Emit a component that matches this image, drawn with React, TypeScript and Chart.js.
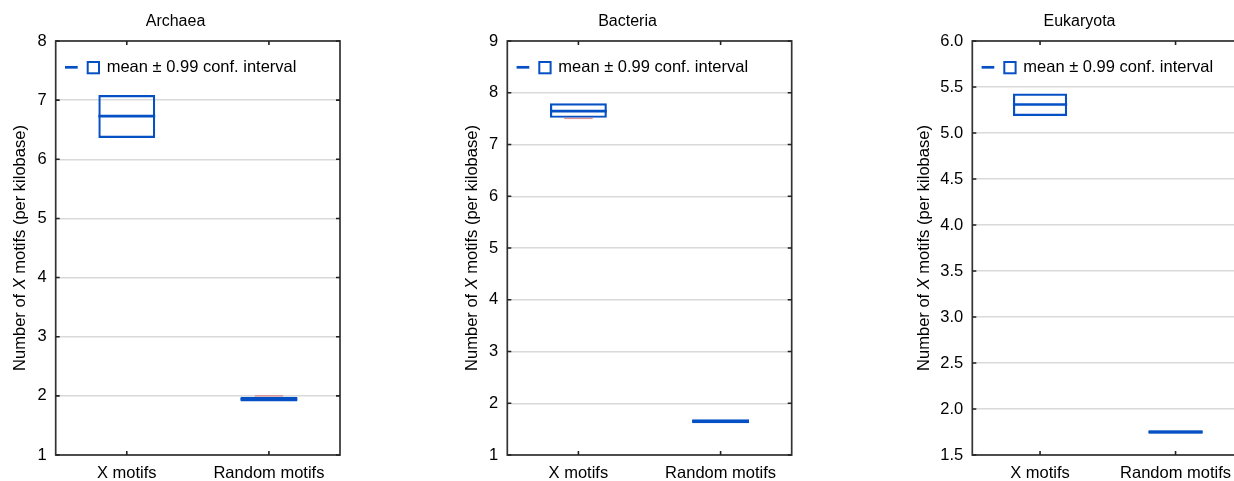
import React, { useEffect, useRef } from "react";
import { Chart, registerables } from "chart.js";

Chart.register(...registerables);

// ---- data ----
const categories = ["X motifs", "Random motifs"];

const archaeaLow = [6.36, 1.905];
const archaeaHigh = [7.085, 1.985];
const archaeaMean = [6.73, 1.944];
const archaeaPink: (number | null)[] = [null, 2.0];

const bacteriaLow = [7.515, 1.614];
const bacteriaHigh = [7.795, 1.69];
const bacteriaMean = [7.645, 1.652];
const bacteriaPink: (number | null)[] = [7.504, null];

const eukaryotaLow = [5.185, 1.732];
const eukaryotaHigh = [5.428, 1.768];
const eukaryotaMean = [5.309, 1.75];
const eukaryotaPink: (number | null)[] = [null, null];

const panelTitles = ["Archaea", "Bacteria", "Eukaryota"];
const yRanges = [
  { min: 1, max: 8, step: 1, decimals: 0 },
  { min: 1, max: 9, step: 1, decimals: 0 },
  { min: 1.5, max: 6.0, step: 0.5, decimals: 1 },
];
const legendText = "mean \u00b1 0.99 conf. interval";
const yTitleParts = ["Number of ", "X", " motifs (per kilobase)"];

const BLUE = "#0550c4";
const FONT = "'Liberation Sans', Arial, sans-serif";

type Panel = {
  title: string;
  low: number[];
  high: number[];
  mean: number[];
  pink: (number | null)[];
  range: { min: number; max: number; step: number; decimals: number };
  left: number;
  width: number;
  yWidth: number;
  rightPad: number;
};

const panels: Panel[] = [
  { title: panelTitles[0], low: archaeaLow, high: archaeaHigh, mean: archaeaMean, pink: archaeaPink, range: yRanges[0], left: 0, width: 400, yWidth: 55.7, rightPad: 60 },
  { title: panelTitles[1], low: bacteriaLow, high: bacteriaHigh, mean: bacteriaMean, pink: bacteriaPink, range: yRanges[1], left: 452, width: 400, yWidth: 55.3, rightPad: 60.3 },
  { title: panelTitles[2], low: eukaryotaLow, high: eukaryotaHigh, mean: eukaryotaMean, pink: eukaryotaPink, range: yRanges[2], left: 904, width: 360, yWidth: 68.3, rightPad: 20.7 },
];

function makePlugin(p: Panel) {
  return {
    id: "decor",
    afterDatasetsDraw(chart: any) {
      const ctx: CanvasRenderingContext2D = chart.ctx;
      const ca = chart.chartArea;
      const y = chart.scales.y;
      const meta = chart.getDatasetMeta(0);
      ctx.save();
      // mean lines and pink marks
      meta.data.forEach((el: any, i: number) => {
        const w = el.width;
        const ym = y.getPixelForValue(p.mean[i]);
        ctx.strokeStyle = BLUE;
        ctx.lineWidth = 2.6;
        ctx.beginPath();
        ctx.moveTo(el.x - w / 2, ym);
        ctx.lineTo(el.x + w / 2, ym);
        ctx.stroke();
        const pv = p.pink[i];
        if (pv !== null && pv !== undefined) {
          const yp = y.getPixelForValue(pv);
          ctx.strokeStyle = "rgba(215,110,110,0.75)";
          ctx.lineWidth = 1.3;
          ctx.beginPath();
          ctx.moveTo(el.x - w / 4, yp);
          ctx.lineTo(el.x + w / 4, yp);
          ctx.stroke();
        }
      });
      // frame
      ctx.strokeStyle = "#333";
      ctx.lineWidth = 1.7;
      ctx.strokeRect(ca.left, ca.top, ca.right - ca.left, ca.bottom - ca.top);
      // inward ticks
      ctx.strokeStyle = "#222";
      ctx.lineWidth = 1.6;
      y.ticks.forEach((t: any) => {
        const yy = y.getPixelForValue(t.value);
        ctx.beginPath();
        ctx.moveTo(ca.left, yy);
        ctx.lineTo(ca.left + 4, yy);
        ctx.moveTo(ca.right, yy);
        ctx.lineTo(ca.right - 4, yy);
        ctx.stroke();
      });
      const x = chart.scales.x;
      categories.forEach((_c, i) => {
        const xx = x.getPixelForValue(i);
        ctx.beginPath();
        ctx.moveTo(xx, ca.top);
        ctx.lineTo(xx, ca.top + 4);
        ctx.moveTo(xx, ca.bottom);
        ctx.lineTo(xx, ca.bottom - 4);
        ctx.stroke();
      });
      // legend
      const lx = ca.left;
      ctx.strokeStyle = BLUE;
      ctx.lineWidth = 2.7;
      ctx.beginPath();
      ctx.moveTo(lx + 9.3, 67.3);
      ctx.lineTo(lx + 22, 67.3);
      ctx.stroke();
      ctx.lineWidth = 2;
      ctx.strokeRect(lx + 32, 62, 11.3, 11.3);
      ctx.fillStyle = "#000";
      ctx.font = `16.5px ${FONT}`;
      ctx.textAlign = "left";
      ctx.textBaseline = "middle";
      ctx.fillText(legendText, lx + 51, 67.5);
      // title
      ctx.font = `16px ${FONT}`;
      ctx.textAlign = "center";
      ctx.textBaseline = "alphabetic";
      ctx.fillText(p.title, 175.5, 25.5);
      // y title with italic X
      ctx.translate(25, (ca.top + ca.bottom) / 2);
      ctx.rotate(-Math.PI / 2);
      ctx.textAlign = "left";
      const fonts = [`16.5px ${FONT}`, `italic 16.5px ${FONT}`, `16.5px ${FONT}`];
      const widths = yTitleParts.map((s, i) => {
        ctx.font = fonts[i];
        return ctx.measureText(s).width;
      });
      const total = widths.reduce((a, b) => a + b, 0);
      let cx = -total / 2;
      yTitleParts.forEach((s, i) => {
        ctx.font = fonts[i];
        ctx.fillText(s, cx, 0);
        cx += widths[i];
      });
      ctx.restore();
    },
  };
}

function PanelChart({ p }: { p: Panel }) {
  const ref = useRef<HTMLCanvasElement | null>(null);
  useEffect(() => {
    if (!ref.current) return;
    const chart = new Chart(ref.current, {
      type: "bar",
      data: {
        labels: categories,
        datasets: [
          {
            data: p.low.map((l, i) => [l, p.high[i]]) as any,
            backgroundColor: "rgba(0,0,0,0)",
            borderColor: BLUE,
            borderWidth: 2.2,
            borderSkipped: false,
            barPercentage: 0.4,
            categoryPercentage: 1,
          },
        ],
      },
      options: {
        responsive: false,
        animation: false,
        devicePixelRatio: 1,
        layout: { padding: { top: 41, right: p.rightPad, left: 0, bottom: 0 } },
        plugins: { legend: { display: false }, tooltip: { enabled: false }, title: { display: false } },
        scales: {
          x: {
            grid: { display: false, drawTicks: false },
            border: { display: false },
            ticks: { padding: 9, color: "#000", font: { family: FONT, size: 16.5 } },
            afterFit: (s: any) => {
              s.height = 26;
            },
          },
          y: {
            min: p.range.min,
            max: p.range.max,
            grid: { color: "#d9d9d9", lineWidth: 1.5, drawTicks: false },
            border: { display: false },
            ticks: {
              stepSize: p.range.step,
              padding: 9,
              color: "#000",
              font: { family: FONT, size: 16.5 },
              callback: (v: any) => Number(v).toFixed(p.range.decimals),
            },
            afterFit: (s: any) => {
              s.width = p.yWidth;
            },
          },
        },
      },
      plugins: [makePlugin(p)],
    });
    return () => chart.destroy();
  }, [p]);
  return (
    <canvas
      ref={ref}
      width={p.width}
      height={481}
      style={{ position: "absolute", left: p.left, top: 0, width: p.width, height: 481 }}
    />
  );
}

export default function App() {
  return (
    <div
      style={{
        position: "fixed",
        left: 0,
        top: 0,
        width: 1234,
        height: 481,
        overflow: "hidden",
        background: "#fff",
      }}
    >
      {panels.map((p) => (
        <PanelChart key={p.title} p={p} />
      ))}
    </div>
  );
}
